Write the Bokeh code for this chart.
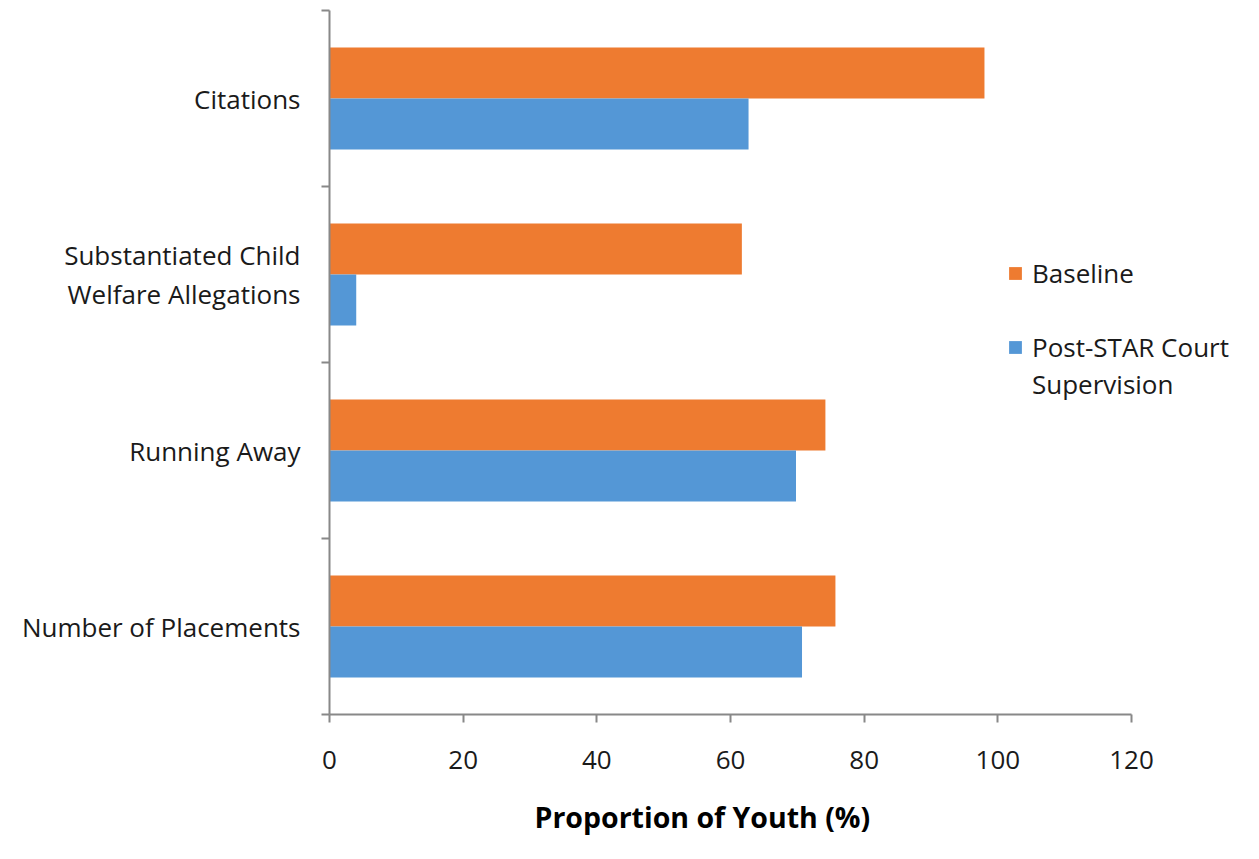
from bokeh.plotting import figure
from bokeh.models import Range1d, FixedTicker, Legend, LegendItem, ColumnDataSource, Title
from bokeh.embed import file_html
from bokeh.resources import INLINE

# Data (top to bottom as shown)
categories = ["Citations", "Substantiated Child\nWelfare Allegations", "Running Away", "Number of Placements"]
baseline = [98.0, 61.7, 74.2, 75.7]
post_star = [62.7, 4.0, 69.8, 70.7]
x_ticks = [0, 20, 40, 60, 80, 100, 120]
series_names = ["Baseline", "Post-STAR Court", "Supervision"]

n = len(categories)
centers = [n - i - 0.5 for i in range(n)]
off = 0.145
bh = 0.29

src = ColumnDataSource(dict(
    cat=categories,
    y_base=[c + off for c in centers],
    y_post=[c - off for c in centers],
    baseline=baseline,
    post=post_star,
))

W, H = 1259, 859
left_b, right_b = 329, 10
x_max_visible = 120
frame_w = W - left_b - right_b
x_end = x_max_visible * frame_w / (1131 - 329)

p = figure(width=W, height=H, output_backend="svg", toolbar_location=None,
           x_range=Range1d(0, x_end), y_range=Range1d(0, n),
           min_border_left=left_b, min_border_right=right_b, min_border_top=10, min_border_bottom=145)
p.outline_line_color = None
p.grid.grid_line_color = None
p.background_fill_color = "white"
p.border_fill_color = "white"

r1 = p.hbar(y="y_base", left=0, right="baseline", height=bh, source=src,
            fill_color="#EE7B30", line_color=None)
r2 = p.hbar(y="y_post", left=0, right="post", height=bh, source=src,
            fill_color="#5497D6", line_color=None)
# invisible renderer used only for the legend's text-only rows
r_blank = p.hbar(y=[], right=[], height=bh, fill_alpha=0, line_alpha=0)

axis_color = "#888888"
font = "Open Sans"
fs = "26px"

xa = p.xaxis[0]
xa.bounds = (0, x_max_visible)
xa.ticker = FixedTicker(ticks=x_ticks)
xa.axis_line_color = axis_color
xa.axis_line_width = 2
xa.major_tick_line_color = axis_color
xa.major_tick_line_width = 2
xa.major_tick_in = 0
xa.major_tick_out = 8
xa.minor_tick_line_color = None
xa.major_label_text_font = font
xa.major_label_text_font_size = fs
xa.major_label_text_color = "#1a1a1a"
xa.major_label_standoff = 28

ya = p.yaxis[0]
ya.ticker = FixedTicker(ticks=centers, minor_ticks=list(range(n + 1)))
ya.major_label_overrides = {c: categories[i] for i, c in enumerate(centers)}
ya.axis_line_color = axis_color
ya.axis_line_width = 2
ya.major_tick_line_color = None
ya.major_tick_out = 0
ya.major_tick_in = 0
ya.minor_tick_line_color = axis_color
ya.minor_tick_line_width = 2
ya.minor_tick_in = 0
ya.minor_tick_out = 8
ya.major_label_text_font = font
ya.major_label_text_font_size = fs
ya.major_label_text_color = "#1a1a1a"
ya.major_label_text_line_height = 1.1
ya.major_label_standoff = 21

t = Title(text="Proportion of Youth (%)", align="left", offset=205,
          text_font=font, text_font_size="28.5px", text_font_style="bold",
          text_color="#000000", standoff=48, text_line_height=1.0)
p.add_layout(t, "below")

legend = Legend(items=[LegendItem(label=series_names[0], renderers=[r1]),
                       LegendItem(label=" ", renderers=[r_blank]),
                       LegendItem(label=series_names[1], renderers=[r2]),
                       LegendItem(label=series_names[2], renderers=[r_blank])],
                location=(678, 312), border_line_color=None, background_fill_alpha=0,
                label_text_font=font, label_text_font_size=fs, label_text_color="#1a1a1a",
                glyph_width=16, glyph_height=16, label_height=36, spacing=1, label_standoff=9)
p.add_layout(legend)

open("out.html", "w").write(file_html(p, INLINE))
